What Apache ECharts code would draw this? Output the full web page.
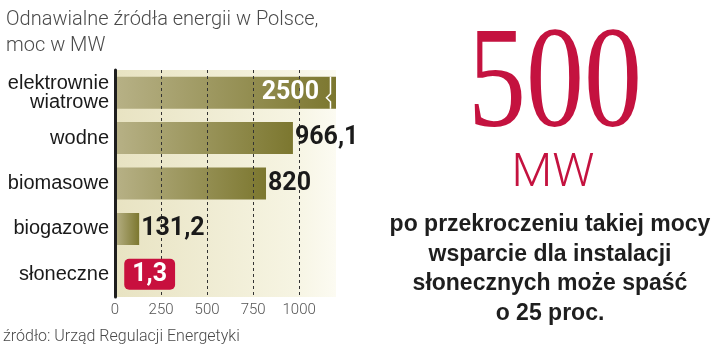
<!DOCTYPE html>
<html><head><meta charset="utf-8">
<script src="https://cdn.jsdelivr.net/npm/echarts@6/dist/echarts.min.js"></script>
<style>html,body{margin:0;padding:0;background:#fff}#c{width:720px;height:348px}</style>
</head><body><div id="c"></div>
<script>
const categories = ['elektrownie\nwiatrowe', 'wodne', 'biomasowe', 'biogazowe', 'słoneczne'];
const values = [2500, 966.1, 820, 131.2, 1.3];
const valueLabels = ['2500', '966,1', '820', '131,2', '1,3'];
const tickValues = [0, 250, 500, 750, 1000];
const titleText = 'Odnawialne źródła energii w Polsce,\nmoc w MW';
const sourceText = 'źródło: Urząd Regulacji Energetyki';
const bigNumber = '500';
const bigUnit = 'MW';
const noteLines = ['po przekroczeniu takiej mocy', 'wsparcie dla instalacji', 'słonecznych może spaść', 'o 25 proc.'];

const AXIS_MAX = 1200;
const numFont = 'Roboto, sans-serif';
const oliveGrad = new echarts.graphic.LinearGradient(0, 0, 1, 0, [
  {offset: 0, color: '#b7b186'}, {offset: 1, color: '#7c772f'}]);

const chart = echarts.init(document.getElementById('c'), null, {renderer: 'canvas'});

const shown = values.map(v => Math.min(v, AXIS_MAX));
const lastIdx = values.length - 1;

const barData = shown.map((v, i) => ({
  value: v, itemStyle: {color: i === lastIdx ? '#c8103e' : oliveGrad}
}));

const labelData = shown.map((v, i) => {
  const item = {value: v};
  if (values[i] > AXIS_MAX) {
    item.label = {position: 'insideRight', distance: 17, color: '#ffffff'};
  } else if (i === lastIdx) {
    item.label = {position: 'right', distance: 9, color: '#ffffff', backgroundColor: '#c8103e',
      borderRadius: 5, padding: [4, 8, 2, 8]};
  }
  return item;
});

chart.setOption({
  animation: false,
  title: {
    text: titleText, left: 1, top: 2,
    textStyle: {fontFamily: 'Roboto', fontWeight: 300, fontSize: 20, color: '#4a4a4a', lineHeight: 26}
  },
  grid: {
    left: 115, top: 70, width: 221, bottom: 51, show: true, borderWidth: 0,
    backgroundColor: new echarts.graphic.LinearGradient(0, 0, 1, 0, [
      {offset: 0, color: '#e8e3c2'}, {offset: 0.8, color: '#f6f4e2'}, {offset: 1, color: '#fcfbf2'}])
  },
  xAxis: {
    type: 'value', min: 0, max: AXIS_MAX, interval: 250, z: 4,
    axisLine: {show: false}, axisTick: {show: false},
    axisLabel: {
      margin: 6, color: '#555', fontFamily: 'Roboto', fontWeight: 300, fontSize: 15,
      formatter: v => tickValues.indexOf(v) >= 0 ? String(v) : ''
    },
    splitLine: {show: true, showMaxLine: false, lineStyle: {color: '#333', type: [3, 3], width: 1}}
  },
  yAxis: {
    type: 'category', data: categories, inverse: true, z: 6,
    axisLine: {show: true, lineStyle: {color: '#1e1e1e', width: 3}},
    axisTick: {show: false},
    axisLabel: {margin: 6, color: '#1a1a1a', fontFamily: '"Liberation Sans", Arial, sans-serif', fontSize: 20, lineHeight: 19}
  },
  series: [{
    type: 'bar', data: barData, barWidth: 32, z: 3
  }, {
    type: 'bar', data: labelData, barWidth: 32, barGap: '-100%', z: 5,
    itemStyle: {color: 'rgba(0,0,0,0)'},
    label: {
      show: true, position: 'right', distance: 2,
      fontFamily: numFont, fontWeight: 'bold', fontSize: 25, color: '#1a1a1a',
      formatter: p => valueLabels[p.dataIndex]
    }
  }],
  graphic: [
    {id: 'src', type: 'text', left: 3, top: 329, style: {text: sourceText, fontFamily: 'Roboto', fontWeight: 300, fontSize: 16, fill: '#4a4a4a'}},
    {id: 'big', type: 'text', x: 555, y: 88, scaleX: 0.8, style: {text: bigNumber, fontFamily: '"Liberation Serif", serif', fontSize: 145, fill: '#c4123f', align: 'center', verticalAlign: 'middle'}},
    {id: 'unit', type: 'text', x: 553, y: 174, style: {text: bigUnit, fontFamily: 'Roboto', fontWeight: 300, fontSize: 47, fill: '#c4123f', align: 'center', verticalAlign: 'middle'}},
    ...noteLines.map((t, i) => ({id: 'note' + i, type: 'text', x: 550, y: 225 + i * 29.5, style: {text: t, fontFamily: '"Liberation Sans", Arial, sans-serif', fontWeight: 'bold', fontSize: 23, fill: '#1e1e1e', align: 'center', verticalAlign: 'middle'}}))
  ]
});

// break symbol on the truncated bar, placed through the axis scales
const brokenIdx = values.findIndex(v => v > AXIS_MAX);
if (brokenIdx >= 0) {
  const c = chart.convertToPixel({gridIndex: 0}, [AXIS_MAX - 30, brokenIdx]);
  const x = c[0], y = c[1], h = 16;
  chart.setOption({graphic: [{
    id: 'brk', type: 'polyline', z: 10,
    shape: {points: [[x, y - h], [x, y + 1], [x - 4, y + 5], [x, y + 9], [x, y + h]]},
    style: {stroke: '#ffffff', lineWidth: 1.5, fill: null}
  }]});
}
</script></body></html>
